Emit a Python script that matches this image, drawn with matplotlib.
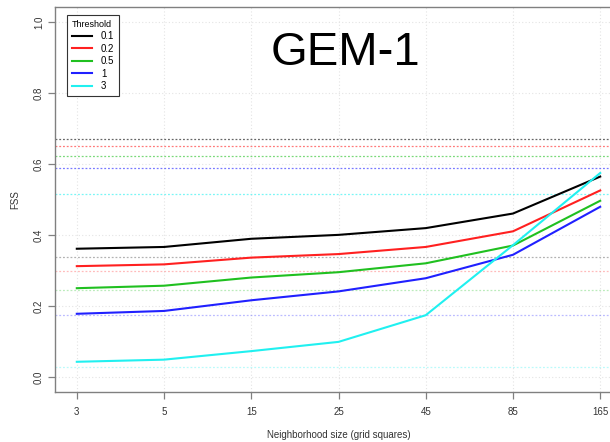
import matplotlib
matplotlib.use("Agg")
import matplotlib.pyplot as plt

plt.rcParams['font.family'] = ['Liberation Sans', 'DejaVu Sans']

x_labels = ["3", "5", "15", "25", "45", "85", "165"]
thresholds = ["0.1", "0.2", "0.5", "1", "3"]
colors = ["#000000", "#ff2020", "#20c020", "#2020ff", "#20f0f0"]

fss_01 = [0.362, 0.367, 0.390, 0.401, 0.420, 0.461, 0.565]
fss_02 = [0.313, 0.318, 0.337, 0.347, 0.367, 0.411, 0.526]
fss_05 = [0.251, 0.258, 0.281, 0.296, 0.321, 0.371, 0.497]
fss_1 = [0.179, 0.187, 0.217, 0.242, 0.279, 0.345, 0.480]
fss_3 = [0.044, 0.050, 0.074, 0.100, 0.175, 0.372, 0.575]
series = [fss_01, fss_02, fss_05, fss_1, fss_3]

# random (base rate) and useful FSS reference levels
fss_random = [0.339, 0.300, 0.245, 0.176, 0.030]
fss_useful = [0.670, 0.652, 0.623, 0.589, 0.516]

y_ticks = [0.0, 0.2, 0.4, 0.6, 0.8, 1.0]

W, H = 610, 442
fig = plt.figure(figsize=(W / 100, H / 100), dpi=100)
ax = fig.add_axes([55 / W, (H - 392) / H, (622 - 55) / W, (392 - 7) / H])

xpos = list(range(1, len(x_labels) + 1))
ax.set_xlim(0.75, 7.25)
ax.set_ylim(-0.041, 1.042)

# grid
for xp in xpos:
    ax.axvline(xp, color="#e4e4e4", lw=0.8, ls=(0, (1, 2)), zorder=0)
for yt in y_ticks:
    ax.axhline(yt, color="#e4e4e4", lw=0.8, ls=(0, (1, 2)), zorder=0)

# reference lines
for c, yr, yu in zip(colors, fss_random, fss_useful):
    ax.axhline(yu, color=c, lw=0.9, ls=(0, (1.5, 1.5)), alpha=0.6, zorder=1)
    ax.axhline(yr, color=c, lw=0.9, ls=(0, (1.5, 1.5)), alpha=0.3, zorder=1)

lines = []
for c, s, lab in zip(colors, series, thresholds):
    ln, = ax.plot(xpos, s, color=c, lw=1.5, label=lab, zorder=3)
    lines.append(ln)

ax.set_xticks(xpos)
ax.set_xticklabels(x_labels)
ax.set_yticks(y_ticks)
ax.set_yticklabels([f"{v:.1f}" for v in y_ticks], rotation=90, va="center")
ax.tick_params(axis="both", colors="#808080", labelcolor="#333333",
               labelsize=7, length=5, width=0.9)
ax.tick_params(axis="x", pad=6)
ax.tick_params(axis="y", pad=3)
for sp in ax.spines.values():
    sp.set_color("#808080")
    sp.set_linewidth(1.0)

ax.set_xlabel("Neighborhood size (grid squares)", fontsize=7, color="#333333", labelpad=9)
ax.set_ylabel("FSS", fontsize=7, color="#333333", labelpad=10)

fig.text(345.5 / W, 1 - 53 / H, "GEM-1", fontsize=34, ha="center", va="center", color="black")

leg = ax.legend(handles=lines, title="Threshold", loc="upper left",
                bbox_to_anchor=(67 / W, 1 - 15 / H), bbox_transform=fig.transFigure,
                borderaxespad=0, fontsize=7, title_fontsize=6.5, frameon=True,
                fancybox=False, framealpha=1, edgecolor="#333333",
                handlelength=2.1, handletextpad=0.9, labelspacing=0.25,
                borderpad=0.5)
leg.get_frame().set_linewidth(0.8)
leg._legend_box.align = "left"

fig.savefig("out.png", dpi=100)
